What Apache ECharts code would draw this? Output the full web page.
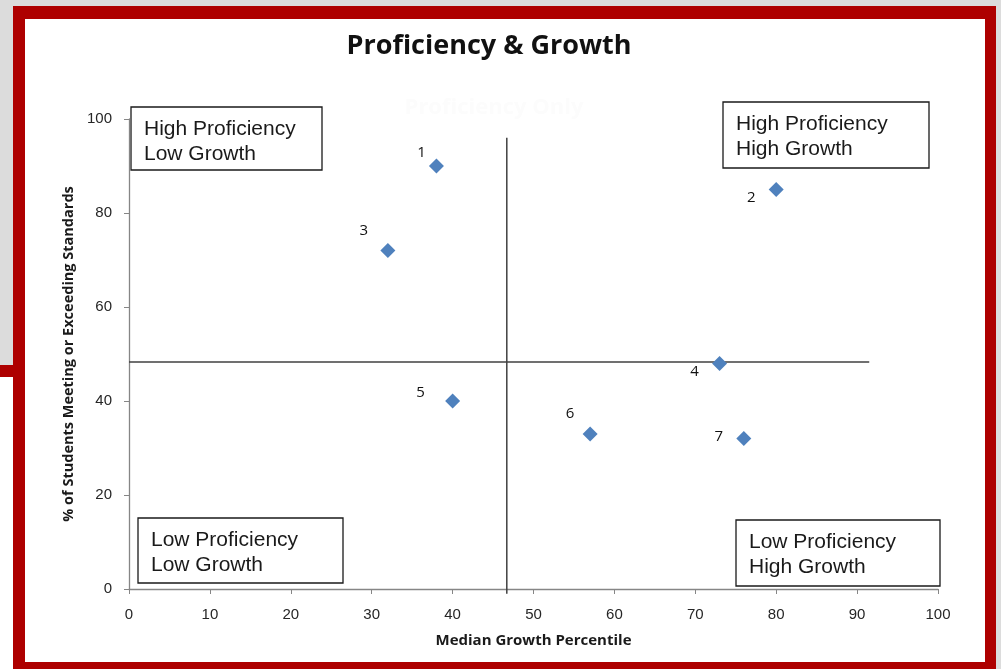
<!DOCTYPE html>
<html>
<head>
<meta charset="utf-8">
<title>Proficiency &amp; Growth</title>
<script src="https://cdn.jsdelivr.net/npm/echarts@6/dist/echarts.min.js"></script>
<style>
  html, body { margin: 0; padding: 0; background: #ffffff; }
  #chart { width: 1001px; height: 669px; }
</style>
</head>
<body>
<div id="chart"></div>
<script>
// School ids and their (growth percentile, % proficient) pairs
const schoolIds = ['1', '2', '3', '4', '5', '6', '7'];
const growthPercentile = [38, 80, 32, 73, 40, 57, 76];
const percentProficient = [90, 85, 72, 48, 40, 33, 32];

// Quadrant divider lines (growth cut, proficiency cut) and their extents
const growthCut = 46.7;
const proficiencyCut = 48.3;
const growthCutSpan = [-1, 96];
const proficiencyCutSpan = [0, 91.5];

// Axis tick settings
const xTicks = { min: 0, max: 100, interval: 10 };
const yTicks = { min: 0, max: 100, interval: 20 };

// Quadrant captions
const quadrantText = [
  ['High Proficiency', 'Low Growth'],
  ['High Proficiency', 'High Growth'],
  ['Low Proficiency', 'Low Growth'],
  ['Low Proficiency', 'High Growth']
];

// Label nudges around each diamond (pixels)
const labelNudge = {
  '1': [-15, -13], '2': [-25, 8], '3': [-24, -20], '4': [-25, 8],
  '5': [-32, -8], '6': [-20, -20], '7': [-25, -2]
};

const RED = '#ae0000';
const GREY = '#dcdcdc';
const AXIS = '#868686';

const chart = echarts.init(document.getElementById('chart'), null, { renderer: 'canvas' });

const points = schoolIds.map((id, i) => ({
  value: [growthPercentile[i], percentProficient[i], id],
  label: { offset: labelNudge[id] }
}));

// Quadrant caption boxes: [x, y, w, h]
const boxRects = [
  [131, 107, 191, 63],
  [723, 102, 206, 66],
  [138, 518, 205, 65],
  [736, 520, 204, 66]
];

function captionBox(rect, lines) {
  return {
    type: 'group',
    z: 20,
    children: [
      {
        type: 'rect',
        shape: { x: rect[0], y: rect[1], width: rect[2], height: rect[3] },
        style: { fill: '#ffffff', stroke: '#1a1a1a', lineWidth: 1.3 }
      },
      {
        type: 'text',
        x: rect[0] + 13,
        y: rect[1] + 10,
        style: {
          text: lines.join('\n'),
          font: '21px "Liberation Sans", Arial, sans-serif',
          lineHeight: 25,
          fill: '#1a1a1a'
        }
      }
    ]
  };
}

const frame = [
  { type: 'rect', z: -10, shape: { x: 0, y: 0, width: 1001, height: 6 }, style: { fill: GREY } },
  { type: 'rect', z: -10, shape: { x: 0, y: 0, width: 13, height: 365 }, style: { fill: GREY } },
  { type: 'rect', z: -10, shape: { x: 996, y: 0, width: 5, height: 669 }, style: { fill: GREY } },
  { type: 'rect', z: -9, shape: { x: 13, y: 6, width: 983, height: 13 }, style: { fill: RED } },
  { type: 'rect', z: -9, shape: { x: 13, y: 6, width: 12, height: 663 }, style: { fill: RED } },
  { type: 'rect', z: -9, shape: { x: 985, y: 6, width: 11, height: 663 }, style: { fill: RED } },
  { type: 'rect', z: -9, shape: { x: 13, y: 662, width: 983, height: 7 }, style: { fill: RED } },
  { type: 'rect', z: -9, shape: { x: 0, y: 365, width: 13, height: 12 }, style: { fill: RED } },
  {
    type: 'text', z: -5, x: 494, y: 108,
    style: {
      text: 'Proficiency Only',
      font: 'bold 22px "Open Sans", sans-serif',
      fill: '#fcfcfc', textAlign: 'center', textVerticalAlign: 'middle'
    }
  }
];

const option = {
  backgroundColor: '#ffffff',
  animation: false,
  title: {
    text: 'Proficiency & Growth',
    left: 484,
    top: 28,
    textAlign: 'center',
    textStyle: {
      fontFamily: '"Open Sans", sans-serif',
      fontWeight: 'bold',
      fontSize: 27,
      color: '#111111'
    }
  },
  grid: { left: 129, top: 119, width: 809, height: 470 },
  xAxis: {
    type: 'value',
    min: xTicks.min, max: xTicks.max, interval: xTicks.interval,
    name: 'Median Growth Percentile',
    nameLocation: 'middle',
    nameGap: 44,
    nameTextStyle: {
      fontFamily: '"Open Sans", sans-serif', fontWeight: 'bold', fontSize: 15, color: '#1a1a1a'
    },
    axisLine: { lineStyle: { color: AXIS, width: 1.3 } },
    axisTick: { show: true, length: 5, lineStyle: { color: AXIS } },
    axisLabel: {
      margin: 18, fontFamily: '"Liberation Sans", Arial, sans-serif', fontSize: 15, color: '#262626'
    },
    splitLine: { show: false }
  },
  yAxis: {
    type: 'value',
    min: yTicks.min, max: yTicks.max, interval: yTicks.interval,
    name: '% of Students Meeting or Exceeding Standards',
    nameLocation: 'middle',
    nameGap: 50,
    nameRotate: 90,
    nameTextStyle: {
      fontFamily: '"Open Sans", sans-serif', fontWeight: 'bold', fontSize: 14.5, color: '#1a1a1a'
    },
    axisLine: { show: true, lineStyle: { color: AXIS, width: 1.3 } },
    axisTick: { show: true, length: 5, lineStyle: { color: AXIS } },
    axisLabel: {
      margin: 17, fontFamily: '"Liberation Sans", Arial, sans-serif', fontSize: 15, color: '#262626'
    },
    splitLine: { show: false }
  },
  graphic: frame.concat(boxRects.map((r, i) => captionBox(r, quadrantText[i]))),
  series: [
    {
      type: 'line',
      data: [[growthCut, growthCutSpan[0]], [growthCut, growthCutSpan[1]]],
      symbol: 'none',
      clip: false,
      silent: true,
      lineStyle: { color: '#404040', width: 1.5 },
      z: 3
    },
    {
      type: 'line',
      data: [[proficiencyCutSpan[0], proficiencyCut], [proficiencyCutSpan[1], proficiencyCut]],
      symbol: 'none',
      clip: false,
      silent: true,
      lineStyle: { color: '#404040', width: 1.5 },
      z: 3
    },
    {
      type: 'scatter',
      symbol: 'diamond',
      symbolSize: 15,
      itemStyle: { color: '#4f81bd', opacity: 1 },
      z: 5,
      label: {
        show: true,
        position: 'inside',
        formatter: p => p.value[2],
        fontFamily: '"Open Sans", sans-serif',
        fontSize: 15,
        color: '#111111',
        opacity: 1
      },
      data: points
    }
  ]
};

chart.setOption(option);
</script>
</body>
</html>
